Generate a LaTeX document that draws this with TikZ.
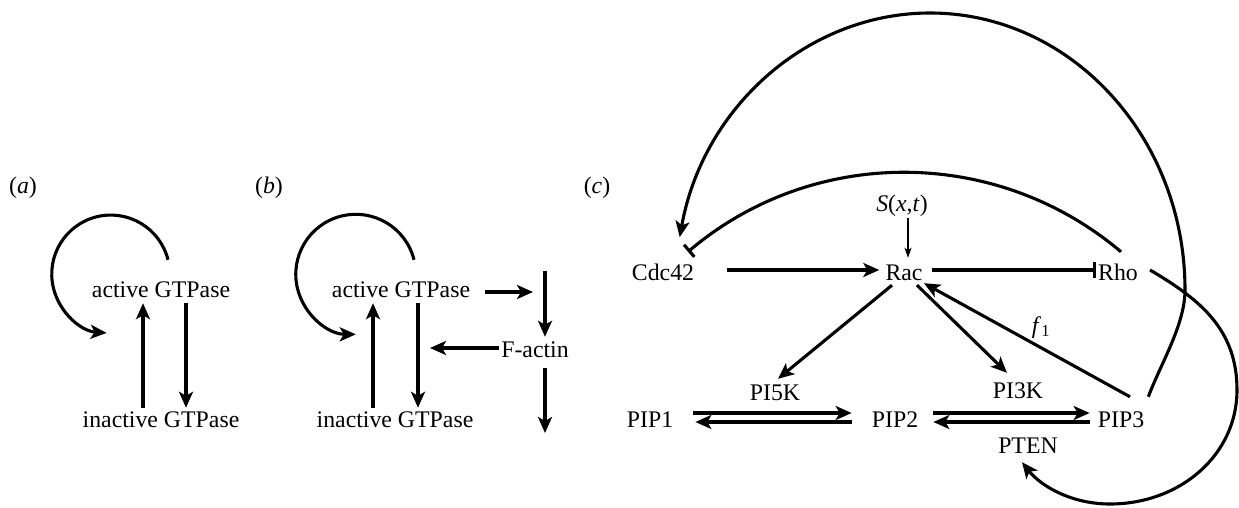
\documentclass[tikz,border=0pt]{standalone}
\usepackage{fontspec}
\setmainfont{Liberation Serif}
\usetikzlibrary{arrows.meta}
\begin{document}
\begin{tikzpicture}[x=1pt,y=-1pt,
  every node/.style={font=\fontsize{23.8}{28}\selectfont},
  lbl/.style={inner sep=0pt, text height=16pt, text depth=0pt, anchor=base},
  arr/.style={line width=3.1pt, -{Stealth[length=16pt,width=14pt,inset=4pt]}},
  inh/.style={line width=3.1pt, -{Bar[width=16pt]}},
  thinarr/.style={line width=1.3pt, -{Stealth[length=10pt,width=7pt,inset=2.5pt]}}]
\useasboundingbox (0,0) rectangle (1239,508);

% ---------- nodes ----------
\node[lbl] (la) at (23,193) {(\textit{a})};
\node[lbl] (aA) at (161,297) {active GTPase};
\node[lbl] (aI) at (161,427) {inactive GTPase};

\node[lbl] (lb) at (269,193) {(\textit{b})};
\node[lbl] (bA) at (401,297) {active GTPase};
\node[lbl] (bI) at (395,427) {inactive GTPase};
\node[lbl] (fA) at (535,357) {F-actin};

\node[lbl] (lc) at (597,193) {(\textit{c})};
\node[lbl] (S) at (902,211) {\textit{S}(\textit{x},\textit{t})};
\node[lbl] (cdc) at (663,280) {Cdc42};
\node[lbl] (rac) at (904,280) {Rac};
\node[lbl] (rho) at (1118,280) {Rho};
\node[lbl] (pi5k) at (775,400) {PI5K};
\node[lbl] (pi3k) at (1018,398) {PI3K};
\node[lbl] (pip1) at (650,427) {PIP1};
\node[lbl] (pip2) at (895,427) {PIP2};
\node[lbl] (pip3) at (1121,427) {PIP3};
\node[lbl] (pten) at (1028,453) {PTEN};
\node[lbl] (f1) at (1041,333) {\textit{f}\textsubscript{1}};

\coordinate (bRend) at (533,292);
\coordinate (fTop) at (545,271);
\coordinate (fBot) at (545,433);
\coordinate (fLeft) at (430,348);

% ---------- panel (a) ----------
\draw[arr] ([shift={(-18,-3)}]aI.north) -- ([shift={(-18,6)}]aA.south);
\draw[arr] ([shift={(25,6)}]aA.south) -- ([shift={(25,-3)}]aI.north);
\draw[arr] ([shift={(7,-21)}]aA.north) arc[start angle=14, end angle=266, radius=59pt];

% ---------- panel (b) ----------
\draw[arr] ([shift={(-22,-3)}]bI.north) -- ([shift={(-28,6)}]bA.south);
\draw[arr] ([shift={(17,6)}]bA.south) -- ([shift={(23,-3)}]bI.north);
\draw[arr] ([shift={(13,-21)}]bA.north) arc[start angle=14, end angle=270, radius=60pt];
\draw[arr] ([shift={(15,3)}]bA.east) -- (bRend);
\draw[arr] (fTop) -- ([shift={(10,-4)}]fA.north);
\draw[arr] ([shift={(-2,-1)}]fA.west) -- (fLeft);
\draw[arr] ([shift={(10,11)}]fA.south) -- (fBot);

% ---------- panel (c) ----------
\draw[thinarr] ([shift={(6,7)}]S.south) -- ([shift={(4,-6)}]rac.north);
\draw[arr] ([shift={(33,-2)}]cdc.east) -- ([shift={(-6,-2)}]rac.west);
\draw[inh] ([shift={(9,-2)}]rac.east) -- ([shift={(-2,-2)}]rho.west);
\draw[inh] ([shift={(3,-12)}]rho.north) .. controls (996,146) and (813,146) .. ([shift={(25,-12)}]cdc.north);
\draw[arr] ([shift={(4,-14)}]pip3.north east) .. controls (1160,365) and (1185,325) .. (1185,290)
  arc[start angle=0, end angle=169, x radius=255pt, y radius=277pt];
\draw[arr] ([shift={(12,-2)}]rho.east) .. controls (1201,300) and (1237,330) .. (1237,390)
  .. controls (1237,455) and (1180,504) .. (1110,504)
  .. controls (1070,504) and (1040,485) .. ([shift={(-6,9)}]pten.south);
\draw[arr] ([shift={(-12,5)}]rac.south) -- ([shift={(3,-5)}]pi5k.north);
\draw[arr] ([shift={(13,5)}]rac.south) -- ([shift={(-11,-9)}]pi3k.north);
\draw[arr] ([shift={(9,-14)}]pip3.north) -- ([shift={(20,3)}]rac.south);

\draw[arr] ([shift={(20,-6)}]pip1.east) -- ([shift={(-20,-6)}]pip2.west);
\draw[arr] ([shift={(-20,3)}]pip2.west) -- ([shift={(22,3)}]pip1.east);
\draw[arr] ([shift={(15,-6)}]pip2.east) -- ([shift={(-8,-6)}]pip3.west);
\draw[arr] ([shift={(-8,3)}]pip3.west) -- ([shift={(15,3)}]pip2.east);
\end{tikzpicture}
\end{document}
